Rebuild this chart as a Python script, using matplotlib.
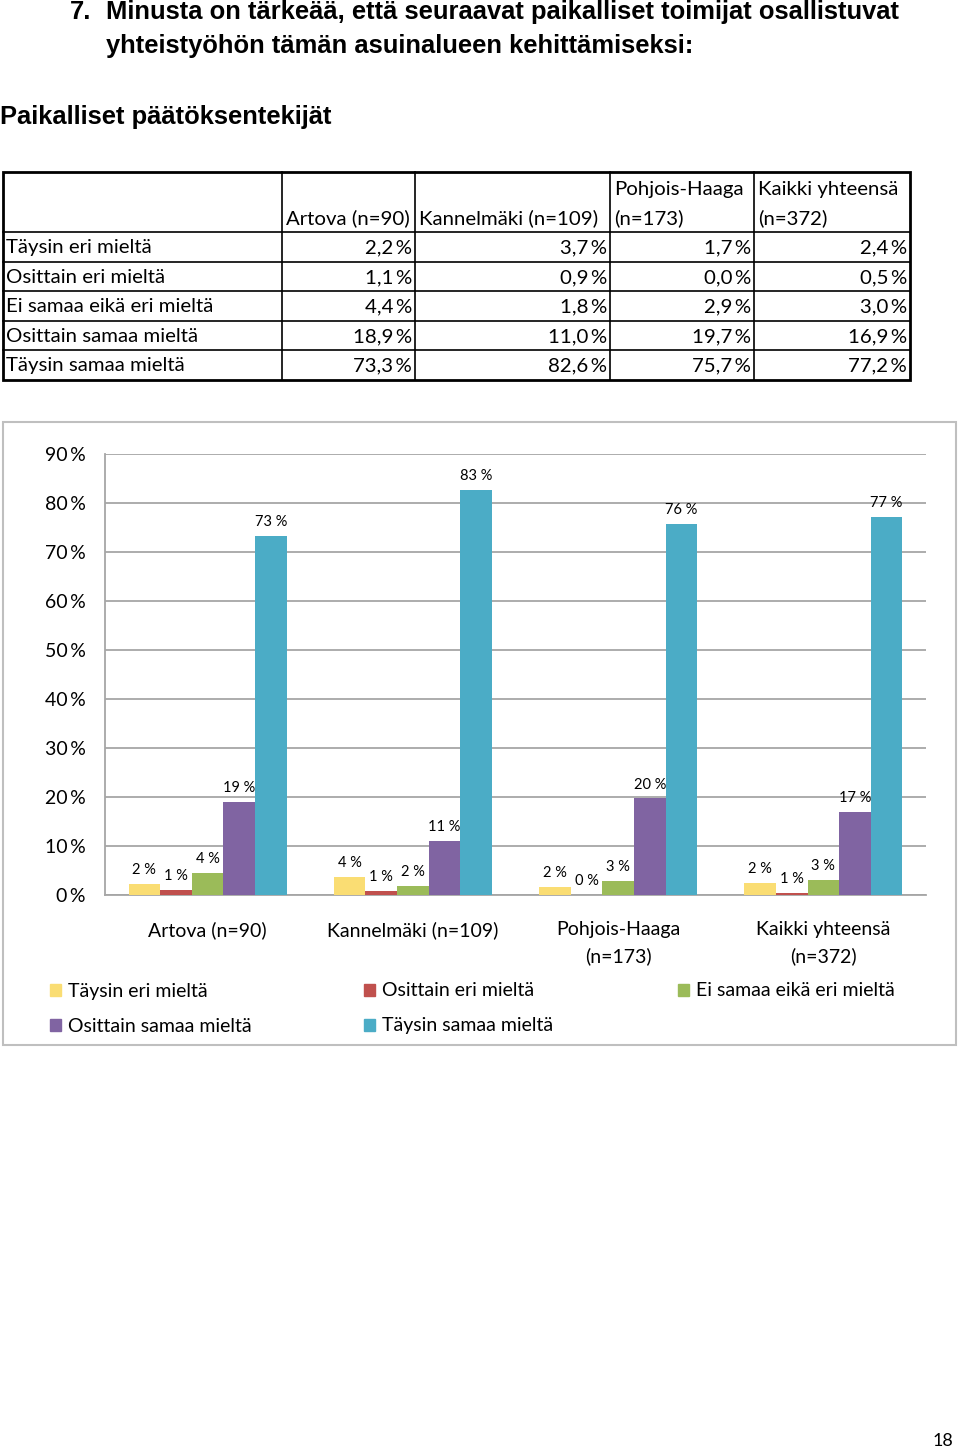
import matplotlib
matplotlib.use("Agg")
import matplotlib.pyplot as plt
from matplotlib.patches import Rectangle

# Data (taulukon arvot, %)
groups = ["Artova (n=90)", "Kannelmäki (n=109)", "Pohjois-Haaga (n=173)", "Kaikki yhteensä (n=372)"]
group_labels = ["Artova (n=90)", "Kannelmäki (n=109)", "Pohjois-Haaga\n(n=173)", "Kaikki yhteensä\n(n=372)"]
answers = ["Täysin eri mieltä", "Osittain eri mieltä", "Ei samaa eikä eri mieltä",
           "Osittain samaa mieltä", "Täysin samaa mieltä"]
taysin_eri = [2.2, 3.7, 1.7, 2.4]
osittain_eri = [1.1, 0.9, 0.0, 0.5]
ei_samaa_eika_eri = [4.4, 1.8, 2.9, 3.0]
osittain_samaa = [18.9, 11.0, 19.7, 16.9]
taysin_samaa = [73.3, 82.6, 75.7, 77.2]
series = [taysin_eri, osittain_eri, ei_samaa_eika_eri, osittain_samaa, taysin_samaa]
colors = ["#FADD73", "#C0504D", "#9BBB59", "#8064A2", "#4BACC6"]
yticks = [0, 10, 20, 30, 40, 50, 60, 70, 80, 90]

W, H = 960, 1451
fig = plt.figure(figsize=(W / 100, H / 100), dpi=100)

# tausta-akseli pikselikoordinaateilla
bg = fig.add_axes([0, 0, 1, 1])
bg.set_xlim(0, W)
bg.set_ylim(H, 0)
bg.axis("off")

title_font = ["Liberation Sans", "DejaVu Sans"]
body_font = ["Lato", "DejaVu Sans"]
thin = "\u2009"

bg.text(70, 12, "7.", fontsize=18.4, fontweight="bold", family=title_font, va="center")
bg.text(106, 12, "Minusta on tärkeää, että seuraavat paikalliset toimijat osallistuvat",
        fontsize=18.4, fontweight="bold", family=title_font, va="center")
bg.text(106, 46, "yhteistyöhön tämän asuinalueen kehittämiseksi:",
        fontsize=18.4, fontweight="bold", family=title_font, va="center")
bg.text(0, 117, "Paikalliset päätöksentekijät", fontsize=18.4, fontweight="bold",
        family=title_font, va="center")

# taulukko
col_x = [3, 282, 415, 610, 754, 910]
row_y = [172, 232, 262, 291, 321, 350, 380]
for x in col_x[1:-1]:
    bg.plot([x, x], [row_y[0], row_y[-1]], color="black", lw=1.2)
for y in row_y[1:-1]:
    bg.plot([col_x[0], col_x[-1]], [y, y], color="black", lw=1.2)
bg.add_patch(Rectangle((col_x[0], row_y[0]), col_x[-1] - col_x[0], row_y[-1] - row_y[0],
                       fill=False, ec="black", lw=2))

tfs = 14.7
header_lines = [("", "Artova (n=90)"), ("", "Kannelmäki (n=109)"),
                ("Pohjois-Haaga", "(n=173)"), ("Kaikki yhteensä", "(n=372)")]
for j, (l1, l2) in enumerate(header_lines):
    x0 = col_x[j + 1] + 4
    if l1:
        bg.text(x0, 189, l1, fontsize=tfs, family=body_font, va="center")
    bg.text(x0, 218, l2, fontsize=tfs, family=body_font, va="center")

for i, name in enumerate(answers):
    yc = (row_y[i + 1] + row_y[i + 2]) / 2 + 1
    bg.text(6, yc, name, fontsize=tfs, family=body_font, va="center")
    for j in range(len(groups)):
        txt = f"{series[i][j]:.1f}".replace(".", ",") + thin + "%"
        bg.text(col_x[j + 2] - 3, yc, txt, fontsize=tfs, family=body_font,
                va="center", ha="right")

# kaavion kehys
bg.add_patch(Rectangle((3, 422), 953, 623, fill=False, ec="#BFBFBF", lw=1.5))

# pylväskaavio
ax = fig.add_axes([105 / W, 1 - 895 / H, 821 / W, 441 / H])
ax.set_xlim(-0.5, len(groups) - 0.5)
ax.set_ylim(0, 90)
ax.set_yticks(yticks)
ax.set_yticklabels([f"{t}{thin}%" for t in yticks], family=body_font, fontsize=14)
ax.tick_params(axis="y", length=0, pad=14)
ax.tick_params(axis="x", length=0)
ax.set_xticks([])
ax.yaxis.grid(True, color="#A6A6A6", lw=1.3)
ax.set_axisbelow(True)
for s in ["top", "right"]:
    ax.spines[s].set_visible(False)
for s in ["left", "bottom"]:
    ax.spines[s].set_color("#A6A6A6")
    ax.spines[s].set_linewidth(1.3)

w = 0.154
for k, vals in enumerate(series):
    xs = [i + (k - 2) * w for i in range(len(groups))]
    bars = ax.bar(xs, vals, width=w, color=colors[k], label=answers[k], zorder=3)
    for b, v in zip(bars, vals):
        ax.annotate(f"{int(v + 0.5)} %", (b.get_x() + w / 2, v), xytext=(0, 5),
                    textcoords="offset points", ha="center", va="bottom",
                    fontsize=10.5, family=body_font)

for i, lab in enumerate(group_labels):
    xc = 105 + (i + 0.5) * 821 / len(groups)
    bg.text(xc, 921, lab, fontsize=14, family=body_font, ha="center", va="top",
            linespacing=1.6)

# selite
leg_x = [50, 364, 678]
leg_y = [991, 1026]
for k, name in enumerate(answers):
    lx = leg_x[k % 3]
    ly = leg_y[k // 3]
    bg.add_patch(Rectangle((lx, ly - 7), 11, 12, color=colors[k]))
    bg.text(lx + 18, ly, name, fontsize=14, family=body_font, va="center")

bg.text(943, 1441, "18", fontsize=13, family=body_font, ha="center", va="center")

fig.savefig("out.png", dpi=100)
